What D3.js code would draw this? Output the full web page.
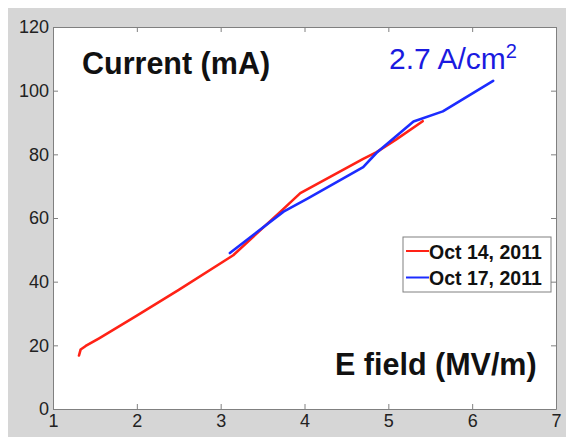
<!DOCTYPE html>
<html>
<head>
<meta charset="utf-8">
<script src="https://cdn.jsdelivr.net/npm/d3@7"></script>
<style>
  html, body { margin: 0; padding: 0; background: #ffffff; }
  svg { display: block; }
  text { font-family: "Liberation Sans", Arial, Helvetica, sans-serif; }
</style>
</head>
<body>
<svg id="chart" width="566" height="437"></svg>
<script>
// ---- data ----
const seriesNames = ["Oct 14, 2011", "Oct 17, 2011"];
const seriesColors = ["#ff2216", "#1c2cff"];
const oct14E = [1.31, 1.33, 1.39, 1.55, 2.00, 2.50, 3.15, 3.73, 3.95, 4.70, 4.86, 5.10, 5.41];
const oct14I = [16.8, 18.7, 19.8, 22.2, 29.3, 37.4, 48.3, 62.4, 67.8, 78.6, 80.7, 84.8, 90.4];
const oct17E = [3.11, 3.75, 4.03, 4.70, 4.86, 5.30, 5.65, 6.25];
const oct17I = [49.0, 62.0, 66.0, 76.0, 80.5, 90.3, 93.5, 103.1];
const xTicks = [1, 2, 3, 4, 5, 6, 7];
const yTicks = [0, 20, 40, 60, 80, 100, 120];
const yLabel = "Current (mA)";
const xLabel = "E field (MV/m)";
const noteText = "2.7 A/cm";
const noteSup = "2";

// ---- layout ----
const W = 566, H = 437;
const L = 53, R = 556, T = 27, B = 409;
const svg = d3.select("#chart");

svg.append("rect").attr("x", 8).attr("y", 8).attr("width", W - 8).attr("height", H - 8).attr("fill", "#d6d6d6");
svg.append("rect").attr("x", L).attr("y", T).attr("width", R - L).attr("height", B - T).attr("fill", "#ffffff");

const x = d3.scaleLinear().domain([1, 7]).range([L, R]);
const y = d3.scaleLinear().domain([0, 120]).range([B, T]);

const axisColor = "#808080";
function styleAxis(g, showText) {
  g.select(".domain").attr("stroke", axisColor).attr("stroke-width", 1);
  g.selectAll(".tick line").attr("stroke", axisColor).attr("stroke-width", 1);
  g.selectAll(".tick text").attr("fill", "#222222").attr("font-size", 18)
    .attr("font-family", "'Liberation Sans', Arial, Helvetica, sans-serif");
  if (!showText) g.selectAll(".tick text").remove();
}

svg.append("g").attr("transform", `translate(0,${B})`)
  .call(d3.axisBottom(x).tickValues(xTicks).tickFormat(d3.format("d")).tickSizeInner(-5).tickSizeOuter(0).tickPadding(5))
  .call(g => styleAxis(g, true));
svg.append("g").attr("transform", `translate(0,${T})`)
  .call(d3.axisTop(x).tickValues(xTicks).tickSizeInner(-5).tickSizeOuter(0))
  .call(g => styleAxis(g, false));
svg.append("g").attr("transform", `translate(${L},0)`)
  .call(d3.axisLeft(y).tickValues(yTicks).tickFormat(d3.format("d")).tickSizeInner(-5).tickSizeOuter(0).tickPadding(4))
  .call(g => styleAxis(g, true));
svg.append("g").attr("transform", `translate(${R},0)`)
  .call(d3.axisRight(y).tickValues(yTicks).tickSizeInner(-5).tickSizeOuter(0))
  .call(g => styleAxis(g, false));

// ---- lines ----
const line = d3.line().x(d => x(d[0])).y(d => y(d[1]));
const series = [
  d3.zip(oct14E, oct14I),
  d3.zip(oct17E, oct17I)
];
series.forEach((s, i) => {
  svg.append("path").datum(s).attr("d", line)
    .attr("fill", "none").attr("stroke", seriesColors[i])
    .attr("stroke-width", 2.6).attr("stroke-linejoin", "round").attr("stroke-linecap", "round");
});

// ---- labels ----
svg.append("text").attr("x", 82).attr("y", 74).attr("font-size", 30.5).attr("font-weight", "bold")
  .attr("fill", "#111111").text(yLabel);
svg.append("text").attr("x", 335).attr("y", 375).attr("font-size", 30.5).attr("font-weight", "bold")
  .attr("fill", "#111111").text(xLabel);
const note = svg.append("text").attr("x", 389).attr("y", 69).attr("font-size", 30).attr("fill", "#1a1ae0");
note.append("tspan").text(noteText);
note.append("tspan").attr("font-size", 20).attr("dy", -11).text(noteSup);

// ---- legend ----
const lg = svg.append("g").attr("transform", "translate(403,237)");
lg.append("rect").attr("x", 0).attr("y", 0).attr("width", 148).attr("height", 55)
  .attr("fill", "#ffffff").attr("stroke", "#808080").attr("stroke-width", 1);
seriesNames.forEach((name, i) => {
  const cy = 14 + i * 26.5;
  lg.append("line").attr("x1", 3).attr("x2", 26).attr("y1", cy).attr("y2", cy)
    .attr("stroke", seriesColors[i]).attr("stroke-width", 2);
  lg.append("text").attr("x", 26).attr("y", cy + 7.5).attr("font-size", 19.5).attr("font-weight", "bold")
    .attr("fill", "#111111").text(name);
});
</script>
</body>
</html>
